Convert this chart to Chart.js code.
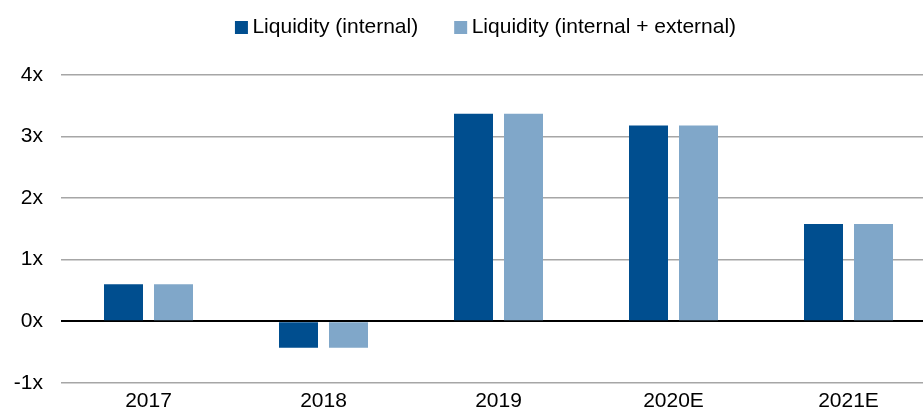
<!DOCTYPE html>
<html>
<head>
<meta charset="utf-8">
<script src="https://cdn.jsdelivr.net/npm/chart.js@4/dist/chart.umd.min.js"></script>
<style>
    html, body { margin: 0; padding: 0; background: #fff; }
    #wrap { width: 923px; height: 415px; overflow: hidden; position: relative; }
    #liqChart { display: block; }
</style>
</head>
<body>
<div id="wrap"><canvas id="liqChart" width="936" height="415"></canvas></div>
<script>
const categories = ['2017', '2018', '2019', '2020E', '2021E'];
const internalValues = [0.6, -0.43, 3.37, 3.18, 1.58];
const combinedValues = [0.6, -0.43, 3.37, 3.18, 1.58];
const seriesNames = ['Liquidity (internal)', 'Liquidity (internal + external)'];
const yTicks = [-1, 0, 1, 2, 3, 4];

const FONT = 'Liberation Sans, Arial, Helvetica, sans-serif';

// nudge the legend box to where the original sits
const legendShift = {
    id: 'legendShift',
    afterLayout(chart) {
        const lg = chart.legend;
        if (!lg) return;
        lg.left -= 10; lg.right -= 10;
        lg.top -= 27; lg.bottom -= 27;
    }
};

const ctx = document.getElementById('liqChart').getContext('2d');
const liqChart = new Chart(ctx, {
    type: 'bar',
    data: {
        labels: categories,
        datasets: [{
            label: seriesNames[0],
            data: internalValues,
            backgroundColor: '#004e8f',
            borderWidth: 0
        }, {
            label: seriesNames[1],
            data: combinedValues,
            backgroundColor: '#80a7c9',
            borderWidth: 0
        }]
    },
    plugins: [legendShift],
    options: {
        responsive: false,
        animation: false,
        categoryPercentage: 0.5714,
        barPercentage: 0.78,
        layout: { padding: { top: 2, right: 0, bottom: -5, left: 0 } },
        plugins: {
            tooltip: { enabled: false },
            legend: {
                position: 'top',
                fullSize: false,
                labels: {
                    usePointStyle: true,
                    pointStyle: 'rect',
                    boxWidth: 1,
                    boxHeight: 13,
                    padding: 42,
                    color: '#000',
                    font: { family: FONT, size: 21 }
                }
            }
        },
        scales: {
            x: {
                grid: { display: false, drawTicks: false },
                border: { display: false },
                ticks: {
                    color: '#000',
                    padding: 6,
                    font: { family: FONT, size: 21 }
                }
            },
            y: {
                min: yTicks[0],
                max: yTicks[yTicks.length - 1],
                afterBuildTicks: function(scale) {
                    scale.ticks = yTicks.map(v => ({ value: v }));
                },
                afterFit: function(scale) {
                    scale.width = 61;
                },
                border: { display: false },
                grid: {
                    drawTicks: false,
                    color: c => c.tick && c.tick.value === 0 ? '#000' : '#a6a6a6',
                    lineWidth: c => c.tick && c.tick.value === 0 ? 2 : 1.5
                },
                ticks: {
                    color: '#000',
                    padding: 18,
                    font: { family: FONT, size: 21 },
                    callback: v => v + 'x'
                }
            }
        }
    }
});
</script>
</body>
</html>
